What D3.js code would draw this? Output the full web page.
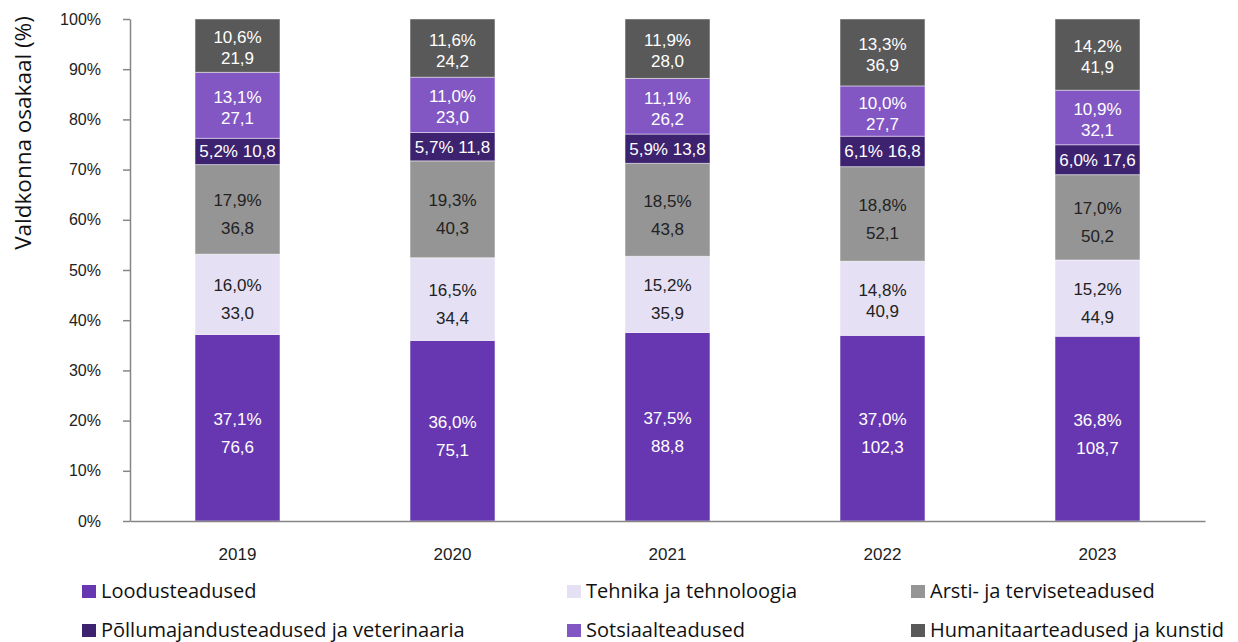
<!DOCTYPE html>
<html>
<head>
<meta charset="utf-8">
<script src="https://cdn.jsdelivr.net/npm/d3@7"></script>
<style>
  body { margin: 0; background: #fff; }
  svg { display: block; }
</style>
</head>
<body>
<svg id="chart" width="1238" height="642"></svg>
<script>
const years = ["2019", "2020", "2021", "2022", "2023"];
const fields = ["Loodusteadused", "Tehnika ja tehnoloogia", "Arsti- ja terviseteadused",
    "Põllumajandusteadused ja veterinaaria", "Sotsiaalteadused", "Humanitaarteadused ja kunstid"];

// counts per field, one array per year (same order as fields)
const counts2019 = [76.6, 33.0, 36.8, 10.8, 27.1, 21.9];
const counts2020 = [75.1, 34.4, 40.3, 11.8, 23.0, 24.2];
const counts2021 = [88.8, 35.9, 43.8, 13.8, 26.2, 28.0];
const counts2022 = [102.3, 40.9, 52.1, 16.8, 27.7, 36.9];
const counts2023 = [108.7, 44.9, 50.2, 17.6, 32.1, 41.9];

// percentage labels as printed
const pct2019 = [37.1, 16.0, 17.9, 5.2, 13.1, 10.6];
const pct2020 = [36.0, 16.5, 19.3, 5.7, 11.0, 11.6];
const pct2021 = [37.5, 15.2, 18.5, 5.9, 11.1, 11.9];
const pct2022 = [37.0, 14.8, 18.8, 6.1, 10.0, 13.3];
const pct2023 = [36.8, 15.2, 17.0, 6.0, 10.9, 14.2];

const yTicks = [0, 0.1, 0.2, 0.3, 0.4, 0.5, 0.6, 0.7, 0.8, 0.9, 1];

const colors = ["#6737b1", "#e6e0f4", "#959595", "#3d2270", "#8257c4", "#595959"];
const labelColors = ["#ffffff", "#222222", "#222222", "#ffffff", "#ffffff", "#ffffff"];

const countsByYear = [counts2019, counts2020, counts2021, counts2022, counts2023];
const pctByYear = [pct2019, pct2020, pct2021, pct2022, pct2023];

const rows = years.map((y, i) => {
    let o = { year: y, idx: i };
    fields.forEach((f, j) => o[f] = countsByYear[i][j]);
    return o;
});

const svg = d3.select("#chart");
const area = { left: 130, right: 1205, top: 19, bottom: 521 };

const scX = d3.scaleBand().domain(years).range([area.left, area.right]).paddingInner(0.605).paddingOuter(0.3025);
const scY = d3.scaleLinear().domain([0, 1]).range([area.bottom, area.top]);

const fmt = v => v.toFixed(1).replace(".", ",");
const ARIAL = "Liberation Sans, Arial, sans-serif";

const series = d3.stack().keys(fields).offset(d3.stackOffsetExpand)(rows);

// bars
series.forEach((s, j) => {
    const g = svg.append("g");
    g.selectAll("rect")
        .data(s)
        .enter()
        .append("rect")
        .attr("x", d => scX(d.data.year))
        .attr("width", scX.bandwidth())
        .attr("y", d => scY(d[1]))
        .attr("height", d => scY(d[0]) - scY(d[1]))
        .attr("fill", colors[j])
        .attr("stroke", "#ffffff")
        .attr("stroke-opacity", 0.45)
        .attr("stroke-width", 1);

    s.forEach(d => {
        const i = d.data.idx;
        const cx = scX(d.data.year) + scX.bandwidth() / 2;
        const y0 = scY(d[1]), y1 = scY(d[0]);
        const h = y1 - y0;
        const mid = (y0 + y1) / 2;
        const pctTxt = fmt(pctByYear[i][j]) + "%";
        const cntTxt = fmt(countsByYear[i][j]);
        const t = svg.append("text")
            .attr("text-anchor", "middle")
            .attr("font-family", ARIAL)
            .attr("font-size", 17)
            .attr("fill", labelColors[j]);
        if (h < 40) {
            t.attr("x", cx).attr("y", mid + 6).text(pctTxt + " " + cntTxt);
        } else {
            const gap = h > 75 ? 28 : 21;
            const off = h > 75 ? 5 : 2;
            t.append("tspan").attr("x", cx).attr("y", mid + off - gap / 2 + 6).text(pctTxt);
            t.append("tspan").attr("x", cx).attr("y", mid + off + gap / 2 + 6).text(cntTxt);
        }
    });
});

// y axis
const axisY = svg.append("g")
    .attr("transform", `translate(${area.left},0)`)
    .call(d3.axisLeft(scY).tickValues(yTicks).tickSize(7).tickSizeOuter(0).tickFormat(d => Math.round(d * 100) + "%"));
axisY.select(".domain").attr("stroke", "#868686").attr("stroke-width", 1.5);
axisY.selectAll(".tick line").attr("stroke", "#868686").attr("stroke-width", 1.5);
axisY.selectAll(".tick text")
    .attr("x", -29)
    .attr("font-family", ARIAL)
    .attr("font-size", 16)
    .attr("fill", "#222");

// x axis
const axisX = svg.append("g")
    .attr("transform", `translate(0,${area.bottom})`)
    .call(d3.axisBottom(scX).tickSize(0).tickSizeOuter(0));
axisX.select(".domain").attr("stroke", "#868686").attr("stroke-width", 1.5);
axisX.selectAll(".tick text")
    .attr("dy", 0)
    .attr("y", 39)
    .attr("font-family", ARIAL)
    .attr("font-size", 17)
    .attr("fill", "#222");

// y title
svg.append("text")
    .attr("transform", "translate(31,133) rotate(-90)")
    .attr("text-anchor", "middle")
    .attr("font-family", "Open Sans, sans-serif")
    .attr("font-size", 22.5)
    .attr("fill", "#111")
    .text("Valdkonna osakaal (%)");

// legend
const legendPos = [[82, 598], [567, 598], [911, 598], [82, 637], [567, 637], [911, 637]];
fields.forEach((f, j) => {
    const [lx, ly] = legendPos[j];
    svg.append("rect").attr("x", lx).attr("y", ly - 13).attr("width", 14).attr("height", 13).attr("fill", colors[j]);
    svg.append("text")
        .attr("x", lx + 19)
        .attr("y", ly)
        .attr("font-family", "Open Sans, sans-serif")
        .attr("font-size", 20)
        .attr("fill", "#111")
        .text(f);
});
</script>
</body>
</html>
